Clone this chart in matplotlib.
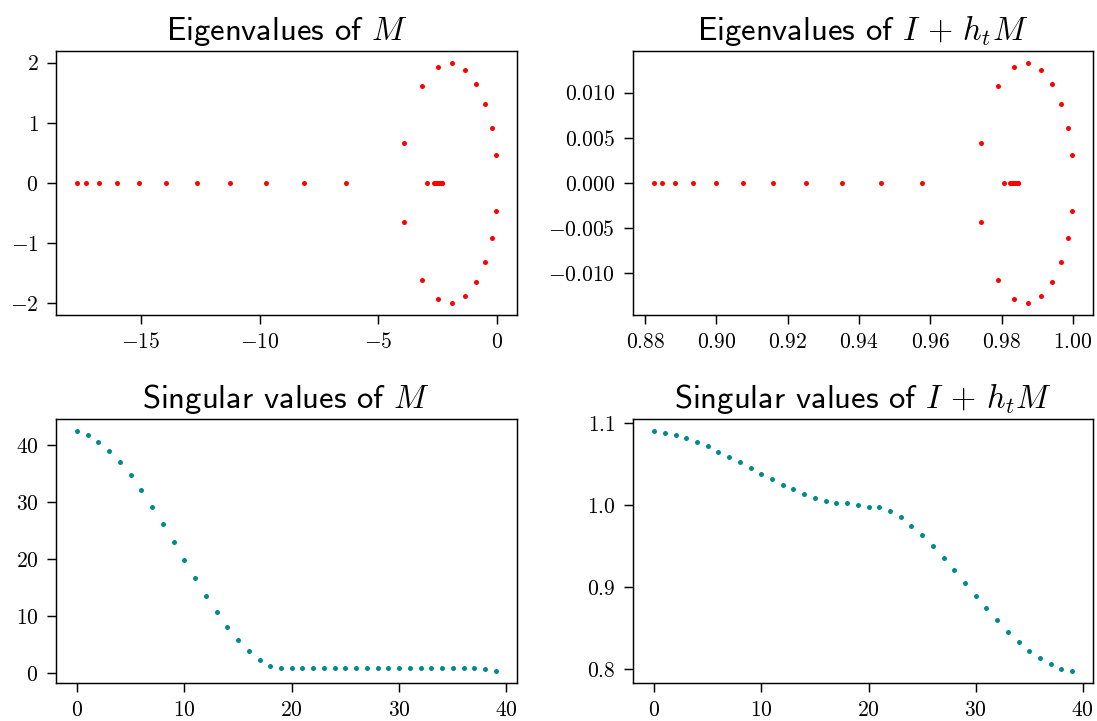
import matplotlib
matplotlib.use("Agg")
import matplotlib.pyplot as plt
import numpy as np

plt.rcParams['mathtext.fontset'] = 'cm'
plt.rcParams['axes.formatter.use_mathtext'] = True
plt.rcParams['font.family'] = ['cmr10', 'DejaVu Sans']
plt.rcParams['axes.unicode_minus'] = True

# ---- data: eigenvalues of M ----
real_eigs = [-17.69, -17.32, -16.78, -16.01, -15.07, -13.94, -12.65, -11.25,
             -9.73, -8.11, -6.35, -2.93, -2.64, -2.60, -2.56, -2.52, -2.48,
             -2.44, -2.40, -2.36, -2.33, -2.30]
pair_re = [-3.90, -3.175, -2.50, -1.88, -1.33, -0.865, -0.50, -0.21, -0.05]
pair_im = [0.66, 1.62, 1.93, 2.00, 1.88, 1.65, 1.32, 0.92, 0.47]
h_t = 0.00665

# ---- data: singular values ----
idx = list(range(40))
sv_M = [42.4, 41.75, 40.5, 38.9, 37.0, 34.7, 32.05, 29.1, 26.1, 22.9,
        19.8, 16.7, 13.55, 10.7, 8.0, 5.8, 3.8, 2.2, 1.18, 0.93,
        0.82, 0.82, 0.82, 0.82, 0.82, 0.82, 0.82, 0.82, 0.82, 0.82,
        0.82, 0.82, 0.82, 0.82, 0.82, 0.82, 0.82, 0.82, 0.70, 0.30]
sv_IhM = [1.0897, 1.0880, 1.0852, 1.0815, 1.0766, 1.0714, 1.0648, 1.0588,
          1.0519, 1.0446, 1.0377, 1.0313, 1.0243, 1.0191, 1.0137, 1.0089,
          1.0052, 1.0028, 1.0021, 1.0004, 0.9972, 0.9972, 0.9923, 0.9850,
          0.9748, 0.9631, 0.9498, 0.9352, 0.9206, 0.9047, 0.8893, 0.8743,
          0.8597, 0.8455, 0.8333, 0.8224, 0.8130, 0.8062, 0.8005, 0.7972]

eig_re = np.array(real_eigs + pair_re + pair_re)
eig_im = np.array([0.0] * len(real_eigs) + pair_im + [-v for v in pair_im])

W, H = 1097, 721
fig = plt.figure(figsize=(W / 100, H / 100), dpi=100)

def box(l, t, r, b):
    return [l / W, 1 - b / H, (r - l) / W, (b - t) / H]

ax1 = fig.add_axes(box(56, 50.7, 516.7, 315))
ax2 = fig.add_axes(box(632.7, 50.7, 1092.7, 315))
ax3 = fig.add_axes(box(56, 419.3, 516.7, 683.3))
ax4 = fig.add_axes(box(633.3, 419.3, 1093, 683.3))

ms = 3.6
ax1.plot(eig_re, eig_im, 'o', color='red', ms=ms, mew=0)
ax2.plot(1 + h_t * eig_re, h_t * eig_im, 'o', color='red', ms=ms, mew=0)
ax3.plot(idx, sv_M, 'o', color='#008b8b', ms=ms, mew=0)
ax4.plot(idx, sv_IhM, 'o', color='#008b8b', ms=ms, mew=0)

titles = [r'Eigenvalues of $M$', r'Eigenvalues of $I \,+\, h_tM$',
          r'Singular values of $M$', r'Singular values of $I \,+\, h_tM$']
for ax, t in zip([ax1, ax2, ax3, ax4], titles):
    ax.set_title(t, fontsize=23.5, family='cmss10', pad=8)
    ax.tick_params(labelsize=15.5, length=6.3, width=1.05, pad=6.3)
    for s in ax.spines.values():
        s.set_linewidth(1.05)

ax1.set_yticks([-2, -1, 0, 1, 2])
ax3.set_xticks([0, 10, 20, 30, 40])
ax4.set_xticks([0, 10, 20, 30, 40])
ax4.set_yticks([0.8, 0.9, 1.0, 1.1])

fig.savefig('out.png', dpi=100)
